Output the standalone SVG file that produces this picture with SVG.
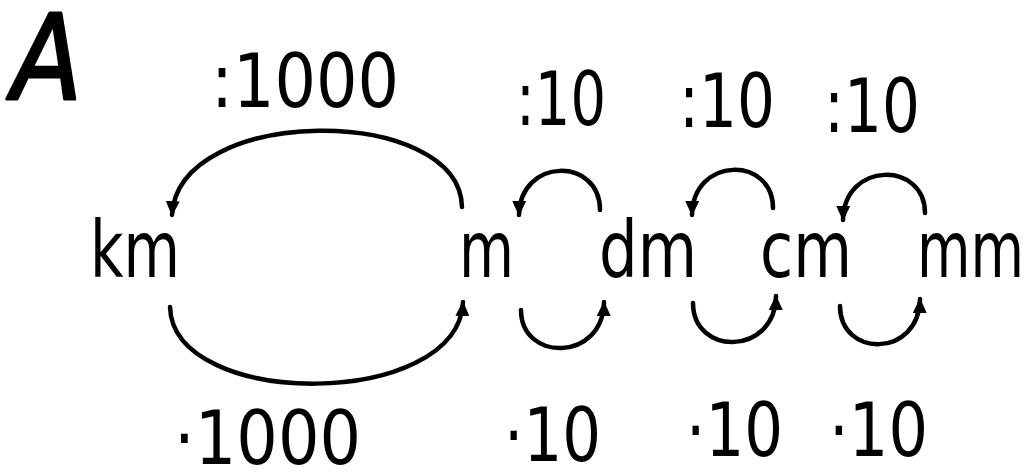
<svg xmlns="http://www.w3.org/2000/svg" width="1032" height="472" viewBox="0 0 1032 472">
<style>
text{font-family:"DejaVu Sans","Liberation Sans",sans-serif;fill:#000}
.lbl{font-size:74px}
.unit{font-size:78px}
.arc{fill:none;stroke:#000;stroke-width:4.5;stroke-linecap:round;marker-end:url(#ah)}
</style>
<defs>
<marker id="ah" markerUnits="userSpaceOnUse" markerWidth="16" markerHeight="14" viewBox="0 0 16 14" refX="14" refY="7" orient="auto">
<path d="M0,0 L15,7 L0,14 z" fill="#000"/>
</marker>
</defs>
<rect width="1032" height="472" fill="#fff"/>
<g id="title"><text x="12" y="99" font-size="118" font-style="italic" stroke="#000" stroke-width="3" stroke-linejoin="round" textLength="70" lengthAdjust="spacingAndGlyphs">A</text></g>
<g id="km"><text class="unit" x="90" y="277" textLength="90" lengthAdjust="spacingAndGlyphs">km</text></g>
<g id="m"><text class="unit" x="459" y="277" textLength="55" lengthAdjust="spacingAndGlyphs">m</text></g>
<g id="dm"><text class="unit" x="599" y="277" textLength="98" lengthAdjust="spacingAndGlyphs">dm</text></g>
<g id="cm"><text class="unit" x="760" y="277" textLength="92" lengthAdjust="spacingAndGlyphs">cm</text></g>
<g id="mm"><text class="unit" x="917" y="277" textLength="107" lengthAdjust="spacingAndGlyphs">mm</text></g>
<g id="connectors">
<path class="arc" d="M462,207 C460,104 178,104 172,215"/>
<path class="arc" d="M600,210 C600,157 520,157 519,215"/>
<path class="arc" d="M773,208 C773,156 693,156 692,215"/>
<path class="arc" d="M925,213 C925,161 844,161 843,220"/>
<path class="arc" d="M170,307 C173,410 458,410 463,302"/>
<path class="arc" d="M521,310 C521,362 603,362 604,302"/>
<path class="arc" d="M693,303 C693,356 775,356 776,296"/>
<path class="arc" d="M840,306 C840,358 919,358 920,299"/>
</g>
<g id="labels">
<text class="lbl" x="211" y="107" textLength="188" lengthAdjust="spacingAndGlyphs">:1000</text>
<text class="lbl" x="516" y="125" textLength="90" lengthAdjust="spacingAndGlyphs">:10</text>
<text class="lbl" x="679" y="127" textLength="96" lengthAdjust="spacingAndGlyphs">:10</text>
<text class="lbl" x="824" y="132" textLength="96" lengthAdjust="spacingAndGlyphs">:10</text>
<text class="lbl" x="174" y="464" textLength="187" lengthAdjust="spacingAndGlyphs">·1000</text>
<text class="lbl" x="504" y="461" textLength="97" lengthAdjust="spacingAndGlyphs">·10</text>
<text class="lbl" x="686" y="456" textLength="97" lengthAdjust="spacingAndGlyphs">·10</text>
<text class="lbl" x="829" y="456" textLength="99" lengthAdjust="spacingAndGlyphs">·10</text>
</g>
</svg>
